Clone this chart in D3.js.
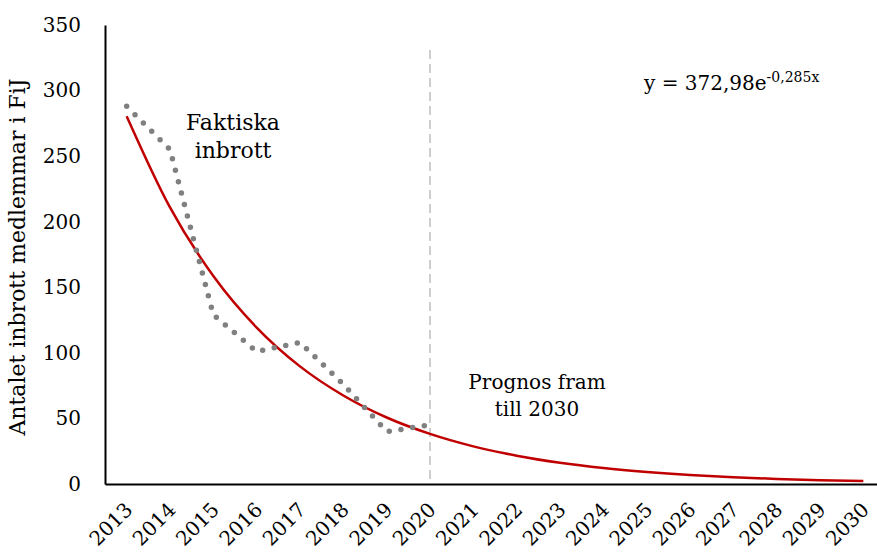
<!DOCTYPE html>
<html>
<head>
<meta charset="utf-8">
<script src="https://cdn.jsdelivr.net/npm/d3@7"></script>
<style>
  body { margin: 0; background: #fff; }
  text { font-family: "DejaVu Serif", serif; fill: #000; }
</style>
</head>
<body>
<div id="chart"></div>
<script>
// data
var years = ["2013", "2014", "2015", "2016", "2017", "2018", "2019", "2020", "2021",
    "2022", "2023", "2024", "2025", "2026", "2027", "2028", "2029", "2030"];
var actualYears = ["2013", "2014", "2015", "2016", "2017", "2018", "2019", "2020"];
var actual = [288, 255, 129, 101, 108, 76, 40, 45];
// exponential trend, as drawn (y = 372,98e^-0,285x)
var trend = [280.5, 210.9, 158.6, 119.3, 89.7, 67.5, 50.7, 38.2, 28.7,
    21.6, 16.2, 12.2, 9.2, 6.9, 5.2, 3.9, 2.9, 2.2];
var yTicks = [0, 50, 100, 150, 200, 250, 300, 350];

var margin = {top: 25, right: -8, bottom: 68, left: 105},
    W = 877, H = 552,
    width = W - margin.left - margin.right,
    height = H - margin.top - margin.bottom;

var svg = d3.select("#chart").append("svg")
    .attr("width", W)
    .attr("height", H);

var main = svg.append("g")
    .attr("transform", "translate(" + margin.left + "," + margin.top + ")");

var x = d3.scaleBand()
    .domain(years)
    .range([0, width]);

var y = d3.scaleLinear()
    .domain([0, 350])
    .range([height, 0]);

function cx(yr) { return x(yr) + x.bandwidth() / 2; }

// y axis
var yAxis = main.append("g")
    .call(d3.axisLeft(y).tickValues(yTicks).tickSize(0).tickPadding(24));
yAxis.select(".domain").attr("stroke", "#000").attr("stroke-width", 2);
yAxis.selectAll("text").style("font-size", "20px").attr("font-family", null);

// x axis
var xAxis = main.append("g")
    .attr("transform", "translate(0," + height + ")")
    .call(d3.axisBottom(x).tickSize(0).tickPadding(0));
xAxis.select(".domain").attr("stroke", "#000").attr("stroke-width", 2);
xAxis.selectAll("text")
    .style("font-size", "20px")
    .attr("font-family", null)
    .attr("text-anchor", "end")
    .attr("dy", null)
    .attr("y", 0)
    .attr("transform", "translate(7,27) rotate(-45)")
    .attr("dx", "0");

// y axis title
svg.append("text")
    .attr("transform", "translate(25," + (margin.top + 232) + ") rotate(-90)")
    .attr("text-anchor", "middle")
    .style("font-size", "22px")
    .text("Antalet inbrott medlemmar i FiJ");

// vertical dashed divider at 2020
main.append("line")
    .attr("x1", cx("2020")).attr("x2", cx("2020"))
    .attr("y1", y(331)).attr("y2", y(0))
    .attr("stroke", "#bfbfbf")
    .attr("stroke-width", 1.5)
    .attr("stroke-dasharray", "9,5");

// trend line
var line = d3.line()
    .x(function (d, i) { return cx(years[i]); })
    .y(function (d) { return y(d); })
    .curve(d3.curveMonotoneX);

main.append("path")
    .datum(trend)
    .attr("fill", "none")
    .attr("stroke", "#c00000")
    .attr("stroke-width", 2.5)
    .attr("d", line);

// actual, round-dotted line
var actualLine = d3.line()
    .x(function (d, i) { return cx(actualYears[i]); })
    .y(function (d) { return y(d); });

main.append("path")
    .datum(actual)
    .attr("fill", "none")
    .attr("stroke", "#808080")
    .attr("stroke-width", 5.5)
    .attr("stroke-linecap", "round")
    .attr("stroke-dasharray", "0,11.8")
    .attr("d", actualLine);

// annotations
var notes = main.append("g").attr("text-anchor", "middle");
notes.append("text").attr("x", 233 - margin.left).attr("y", 130 - margin.top)
    .style("font-size", "22px").text("Faktiska");
notes.append("text").attr("x", 233 - margin.left).attr("y", 158 - margin.top)
    .style("font-size", "22px").text("inbrott");
notes.append("text").attr("x", 537 - margin.left).attr("y", 389 - margin.top)
    .style("font-size", "20px").text("Prognos fram");
notes.append("text").attr("x", 537 - margin.left).attr("y", 416 - margin.top)
    .style("font-size", "20px").text("till 2030");

var eq = main.append("text")
    .attr("x", 644 - margin.left)
    .attr("y", 90 - margin.top)
    .style("font-size", "20px");
eq.append("tspan").text("y = 372,98e");
eq.append("tspan").attr("dy", -8).style("font-size", "14px").text("-0,285x");
</script>
</body>
</html>
